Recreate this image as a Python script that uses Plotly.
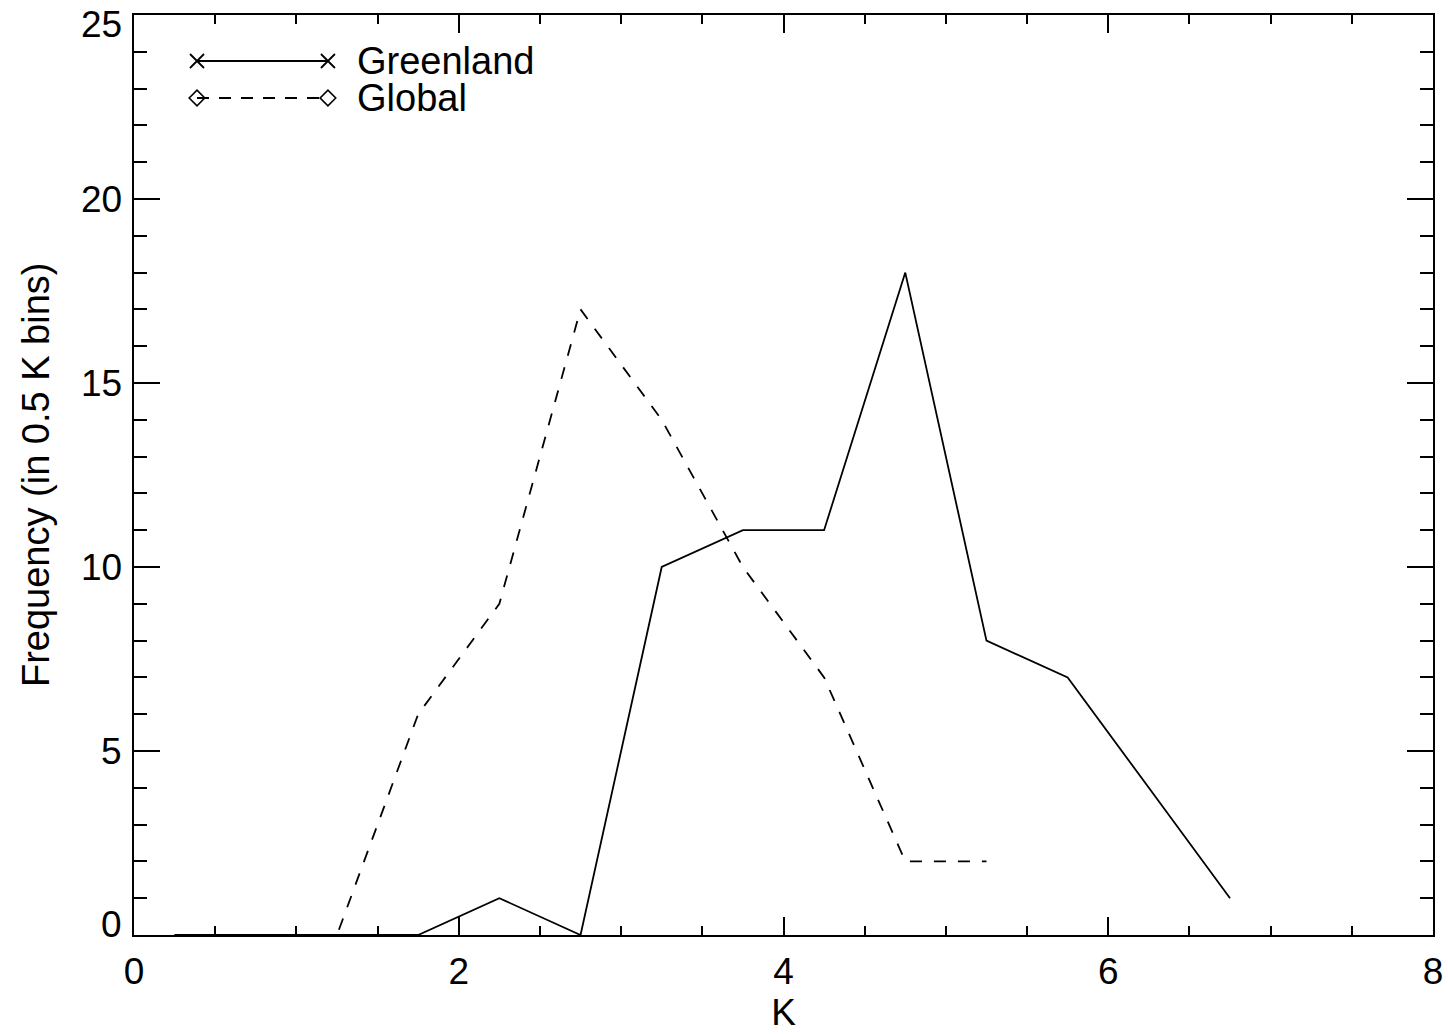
import plotly.graph_objects as go

bin_centers = [0.25, 0.75, 1.25, 1.75, 2.25, 2.75, 3.25, 3.75, 4.25, 4.75, 5.25, 5.75, 6.25, 6.75]
greenland = [0, 0, 0, 0, 1, 0, 10, 11, 11, 18, 8, 7, 4, 1]
global_x = [0.25, 0.75, 1.25, 1.75, 2.25, 2.75, 3.25, 3.75, 4.25, 4.75, 5.25]
global_vals = [0, 0, 0, 6, 9, 17, 14, 10, 7, 2, 2]

x_ticks = [0, 2, 4, 6, 8]
y_ticks = [0, 5, 10, 15, 20, 25]

FONT = "Liberation Sans, Arial, Helvetica, sans-serif"
FS = 37

fig = go.Figure()
fig.add_trace(go.Scatter(x=bin_centers, y=greenland, mode="lines",
                         line=dict(color="black", width=1.8), showlegend=False, cliponaxis=False))
fig.add_trace(go.Scatter(x=global_x, y=global_vals, mode="lines",
                         line=dict(color="black", width=1.8, dash="12px,12px"), showlegend=False, cliponaxis=False))

# legend samples (overlay axes in plot-fraction units)
lx = [0.0485, 0.1493]
fig.add_trace(go.Scatter(x=lx, y=[0.95, 0.95], xaxis="x2", yaxis="y2", mode="lines+markers",
                         line=dict(color="black", width=1.8),
                         marker=dict(symbol="x-thin", size=14, line=dict(color="black", width=1.8)),
                         showlegend=False))
fig.add_trace(go.Scatter(x=lx, y=[0.9098, 0.9098], xaxis="x2", yaxis="y2", mode="lines+markers",
                         line=dict(color="black", width=1.8, dash="12px,10px"),
                         marker=dict(symbol="diamond-open", size=12, color="black", line=dict(color="black", width=1.6)),
                         showlegend=False))

fig.add_annotation(x=0.170, y=0.95, xref="paper", yref="paper", text="Greenland",
                   showarrow=False, xanchor="left", yanchor="middle", height=34,
                   font=dict(family=FONT, size=FS + 1, color="black"))
fig.add_annotation(x=0.170, y=0.9098, xref="paper", yref="paper", text="Global",
                   showarrow=False, xanchor="left", yanchor="middle", height=34,
                   font=dict(family=FONT, size=FS + 1, color="black"))

# y tick labels (edge labels nudged inward as in the original)
for v in y_ticks:
    shift = 0
    if v == y_ticks[-1]:
        shift = -9
    elif v == y_ticks[0]:
        shift = 11
    fig.add_annotation(x=0, y=v, xref="paper", yref="y", text=str(v), showarrow=False,
                       xanchor="right", yanchor="middle", xshift=-10, yshift=shift, height=34,
                       font=dict(family=FONT, size=FS, color="black"))

# y axis title
fig.add_annotation(x=-0.0754, y=0.5, xref="paper", yref="paper", text="Frequency (in 0.5 K bins)",
                   showarrow=False, textangle=-90, xanchor="center", yanchor="middle",
                   font=dict(family=FONT, size=FS + 1, color="black"))

axis_common = dict(showgrid=False, zeroline=False, showline=True, linecolor="black", linewidth=2,
                   mirror="allticks", ticks="inside", tickcolor="black", tickwidth=2, automargin=False,
                   ticklabeloverflow="allow",
                   tickfont=dict(family=FONT, size=FS, color="black"))

fig.update_layout(
    width=1448, height=1034,
    margin=dict(l=134, r=15, t=15, b=99),
    paper_bgcolor="white", plot_bgcolor="white",
    xaxis=dict(range=[0, 8], tickvals=x_ticks, ticklen=18, ticklabelstandoff=3,
               minor=dict(dtick=0.5, ticklen=9, tickwidth=2, tickcolor="black", ticks="inside"),
               title=dict(text="K", font=dict(family=FONT, size=FS, color="black"), standoff=4),
               **axis_common),
    yaxis=dict(range=[0, 25.0001], tickvals=y_ticks, ticklen=26, showticklabels=False,
               minor=dict(dtick=1, ticklen=13, tickwidth=2, tickcolor="black", ticks="inside"),
               **axis_common),
    xaxis2=dict(overlaying="x", range=[0, 1], visible=False),
    yaxis2=dict(overlaying="y", range=[0, 1], visible=False),
)

fig.write_html("out.html")
